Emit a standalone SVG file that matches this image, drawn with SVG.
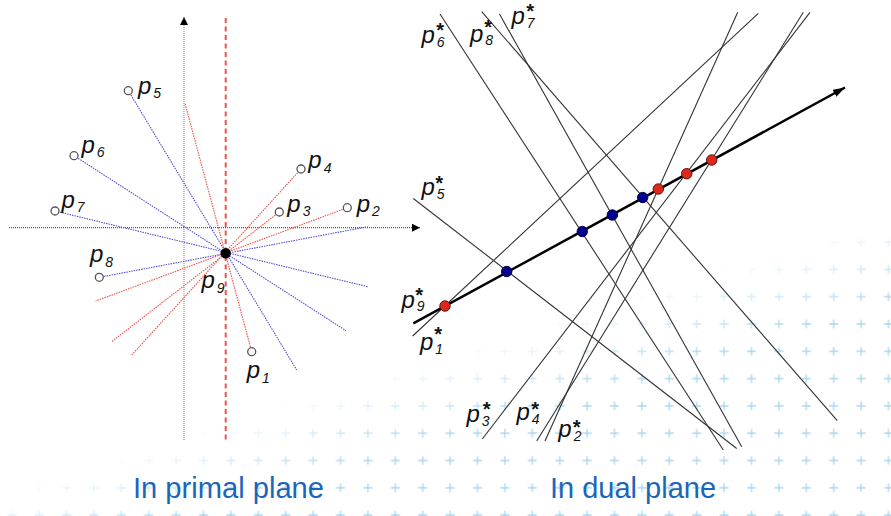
<svg xmlns="http://www.w3.org/2000/svg" width="891" height="516" viewBox="0 0 891 516">
<style>
  .lbl{font-family:"Liberation Sans",Arial,sans-serif;font-style:italic;fill:#111;font-size:24px}
  .sub{font-size:14px}
  .star{font-size:20px;font-weight:bold}
  .cap{font-family:"Liberation Sans",Arial,sans-serif;fill:#1a66bb;font-size:30px}
  .pt{fill:#fff;stroke:#555;stroke-width:1.3}
  .bl{stroke:#5050d0;stroke-width:1.1;stroke-dasharray:1.5 1;fill:none}
  .rd{stroke:#ee5048;stroke-width:1.1;stroke-dasharray:1.5 1;fill:none}
  .dl{stroke:#333;stroke-width:1.1;fill:none}
  .rdot{fill:#e0281a;stroke:#5a1410;stroke-width:1}
  .bdot{fill:#000090;stroke:#000040;stroke-width:1}
</style>
<defs>
  <pattern id="plus" patternUnits="userSpaceOnUse" x="25.4" y="10.05" width="27.4" height="27.3">
    <path d="M9.2,13.65h9M13.7,9.15v9" stroke="#a9d6ef" stroke-width="1.3"/>
  </pattern>
  <linearGradient id="fade" gradientUnits="userSpaceOnUse" x1="470" y1="345" x2="495" y2="425">
    <stop offset="0" stop-color="#fff" stop-opacity="0"/>
    <stop offset="1" stop-color="#fff" stop-opacity="1"/>
  </linearGradient>
  <mask id="fm"><rect width="891" height="516" fill="url(#fade)"/></mask>
  <marker id="axh" viewBox="0 0 8 8" refX="8" refY="4" markerWidth="8" markerHeight="8" markerUnits="userSpaceOnUse" orient="auto"><path d="M0,0L8,4L0,8z" fill="#000"/></marker>
  <marker id="thk" viewBox="0 0 12 8" refX="12" refY="4" markerWidth="12" markerHeight="8" markerUnits="userSpaceOnUse" orient="auto"><path d="M0,0L12,4L0,8z" fill="#000"/></marker>
</defs>
<rect width="891" height="516" fill="#fff"/>
<rect id="background-pluses" width="891" height="516" fill="url(#plus)" mask="url(#fm)"/>

<!-- primal plane axes -->
<g id="primal-axes">
  <line x1="184" y1="440" x2="184" y2="17" stroke="#888" stroke-width="1" stroke-dasharray="1 1" marker-end="url(#axh)"/>
  <line x1="9" y1="227.7" x2="420" y2="227.7" stroke="#333" stroke-width="1" stroke-dasharray="1 1" marker-end="url(#axh)"/>
  <line x1="225.7" y1="18" x2="225.7" y2="442" stroke="#e8554c" stroke-width="2" stroke-dasharray="5 3.5"/>
</g>

<g id="connectors">
  <line class="bl" x1="128.3" y1="90.7" x2="296.7" y2="370"/>
  <line class="bl" x1="74" y1="155.7" x2="346" y2="330.7"/>
  <line class="bl" x1="55" y1="211" x2="367.7" y2="286.7"/>
  <line class="bl" x1="99.3" y1="277.3" x2="367.7" y2="226.7"/>
  <line class="rd" x1="251.7" y1="351.7" x2="185" y2="103.3"/>
  <line class="rd" x1="347.3" y1="207.7" x2="95.7" y2="301"/>
  <line class="rd" x1="279.3" y1="212" x2="111.7" y2="341.7"/>
  <line class="rd" x1="301" y1="169" x2="131.7" y2="355"/>
</g>

<g id="p1"><circle class="pt" cx="251.7" cy="351.7" r="4"/><text class="lbl" x="246.7" y="378.3">p<tspan class="sub" dx="2" dy="4.5">1</tspan></text></g>
<g id="p2"><circle class="pt" cx="347.3" cy="207.7" r="4"/><text class="lbl" x="356.7" y="211.7">p<tspan class="sub" dx="2" dy="4.5">2</tspan></text></g>
<g id="p3"><circle class="pt" cx="279.3" cy="212" r="4"/><text class="lbl" x="287.3" y="211.7">p<tspan class="sub" dx="2" dy="4.5">3</tspan></text></g>
<g id="p4"><circle class="pt" cx="301" cy="169" r="4"/><text class="lbl" x="308.3" y="168.3">p<tspan class="sub" dx="2" dy="4.5">4</tspan></text></g>
<g id="p5"><circle class="pt" cx="128.3" cy="90.7" r="4"/><text class="lbl" x="138" y="94.3">p<tspan class="sub" dx="2" dy="4">5</tspan></text></g>
<g id="p6"><circle class="pt" cx="74" cy="155.7" r="4"/><text class="lbl" x="81.5" y="153.3">p<tspan class="sub" dx="2" dy="3.5">6</tspan></text></g>
<g id="p7"><circle class="pt" cx="55" cy="211" r="4"/><text class="lbl" x="61.5" y="208.3">p<tspan class="sub" dx="2" dy="3.5">7</tspan></text></g>
<g id="p8"><circle class="pt" cx="99.3" cy="277.3" r="4"/><text class="lbl" x="90" y="261.7">p<tspan class="sub" dx="2" dy="5">8</tspan></text></g>
<g id="p9"><circle cx="225.7" cy="253.3" r="5.2" fill="#000"/><text class="lbl" x="201.5" y="288.3">p<tspan class="sub" dx="2" dy="5">9</tspan></text></g>

<!-- dual plane -->
<g id="p1-dual"><line class="dl" x1="412.7" y1="336" x2="758.3" y2="13.3"/><text class="lbl" x="420" y="350">p<tspan class="sub" dx="2" dy="3.5">1</tspan><tspan class="star" x="433.5" y="340.6">*</tspan></text></g>
<g id="p2-dual"><line class="dl" x1="545" y1="441" x2="737.7" y2="12.3"/><text class="lbl" x="558.3" y="436.7">p<tspan class="sub" dx="2" dy="4">2</tspan><tspan class="star" x="572" y="433.9">*</tspan></text></g>
<g id="p3-dual"><line class="dl" x1="482.3" y1="439" x2="810" y2="12.3"/><text class="lbl" x="466.5" y="421.7">p<tspan class="sub" dx="2" dy="4">3</tspan><tspan class="star" x="482" y="415.6">*</tspan></text></g>
<g id="p4-dual"><line class="dl" x1="536.7" y1="441" x2="803.3" y2="12.3"/><text class="lbl" x="516.5" y="420">p<tspan class="sub" dx="2" dy="4">4</tspan><tspan class="star" x="530.5" y="415.6">*</tspan></text></g>
<g id="p5-dual"><line class="dl" x1="413.3" y1="198.5" x2="736.7" y2="448.5"/><text class="lbl" x="421.5" y="195">p<tspan class="sub" dx="2" dy="4">5</tspan><tspan class="star" x="434.5" y="189.9">*</tspan></text></g>
<g id="p6-dual"><line class="dl" x1="440" y1="14" x2="723.3" y2="450"/><text class="lbl" x="421.5" y="43.3">p<tspan class="sub" dx="2" dy="3.5">6</tspan><tspan class="star" x="435.5" y="37.3">*</tspan></text></g>
<g id="p7-dual"><line class="dl" x1="499.5" y1="14" x2="741.7" y2="446.7"/><text class="lbl" x="511.5" y="24.3">p<tspan class="sub" dx="2" dy="3.5">7</tspan><tspan class="star" x="525.5" y="17.9">*</tspan></text></g>
<g id="p8-dual"><line class="dl" x1="481.7" y1="11.7" x2="837.3" y2="420.7"/><text class="lbl" x="470" y="41.7">p<tspan class="sub" dx="2" dy="3.5">8</tspan><tspan class="star" x="483.5" y="33.9">*</tspan></text></g>
<g id="p9-dual"><line x1="413.3" y1="323.4" x2="845" y2="87.5" stroke="#000" stroke-width="2.5" marker-end="url(#thk)"/><text class="lbl" x="401.5" y="308.3">p<tspan class="sub" dx="2" dy="3">9</tspan><tspan class="star" x="414.5" y="302.3">*</tspan></text></g>

<g id="intersections">
  <circle class="rdot" cx="445" cy="306" r="5.2"/>
  <circle class="bdot" cx="506.7" cy="271.5" r="5.2"/>
  <circle class="bdot" cx="582.3" cy="231.5" r="5.2"/>
  <circle class="bdot" cx="612.3" cy="215" r="5.2"/>
  <circle class="bdot" cx="642.7" cy="197.5" r="5.2"/>
  <circle class="rdot" cx="658.3" cy="189" r="5.2"/>
  <circle class="rdot" cx="686.7" cy="173.7" r="5.2"/>
  <circle class="rdot" cx="711.7" cy="160" r="5.2"/>
</g>

<text class="cap" x="133" y="497.5" textLength="191" lengthAdjust="spacingAndGlyphs">In primal plane</text>
<text class="cap" x="550" y="497.5" textLength="166" lengthAdjust="spacingAndGlyphs">In dual plane</text>
</svg>
